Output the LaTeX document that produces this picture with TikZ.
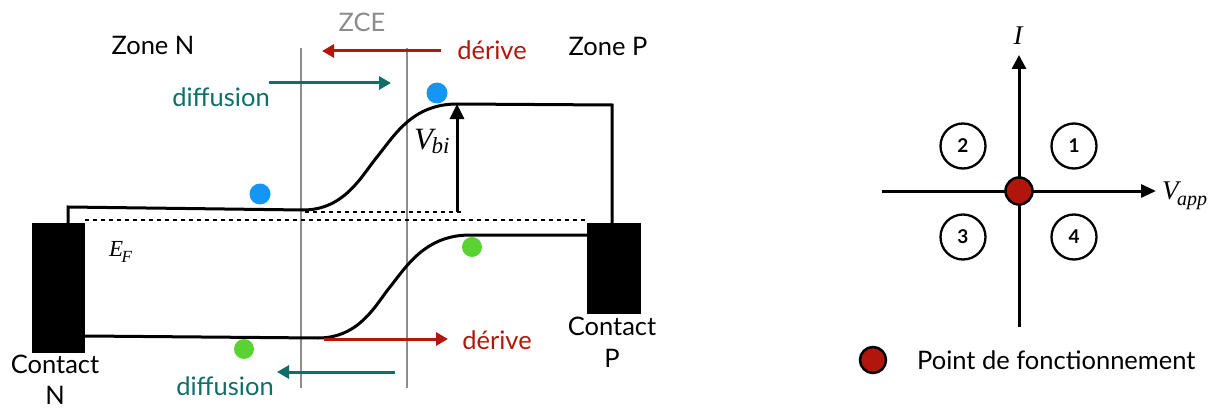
\documentclass[tikz,border=0pt]{standalone}
\usepackage{graphicx}
\usepackage{fontspec}
\setmainfont{Lato}
\newfontfamily\tmsfont{Liberation Serif}
\usetikzlibrary{arrows.meta}
\definecolor{derred}{RGB}{176,24,12}
\definecolor{diffteal}{RGB}{14,110,104}
\definecolor{eblue}{RGB}{20,150,245}
\definecolor{hgreen}{RGB}{90,210,50}
\definecolor{zgray}{RGB}{140,140,140}
\definecolor{pointred}{RGB}{178,22,10}
\newcommand\symsub[5]{{\tmsfont\itshape\fontsize{#1}{#1}\selectfont #2\kern-1.5pt\raisebox{-#5pt}{\fontsize{#3}{#3}\selectfont #4}}}
\begin{document}
\begin{tikzpicture}[x=1pt,y=-1pt,
  band/.style={line width=3pt,line join=miter},
  contact/.style={draw=none,fill=black,inner sep=0pt,minimum width=53pt},
  lbl/.style={inner sep=0pt,font=\fontsize{25.5}{32}\selectfont},
  mlbl/.style={inner sep=0pt},
  zline/.style={zgray,line width=2.2pt},
  dashline/.style={line width=1.8pt,dash pattern=on 4pt off 4pt},
  redarr/.style={derred,line width=3pt,-{Triangle[length=12pt,width=13pt]}},
  tealarr/.style={diffteal,line width=3pt,-{Triangle[length=12pt,width=13pt]}},
  electron/.style={circle,fill=eblue,inner sep=0pt,minimum size=21pt},
  hole/.style={circle,fill=hgreen,inner sep=0pt,minimum size=20pt},
  axisarr/.style={line width=3pt,-{Triangle[length=14pt,width=14pt]}},
  quad/.style={circle,draw,line width=2.3pt,minimum size=45pt,inner sep=0pt,font=\fontsize{19}{20}\selectfont\bfseries},
  opoint/.style={circle,draw,line width=2.5pt,fill=pointred,minimum size=27pt,inner sep=0pt}]
\useasboundingbox (0,0) rectangle (1219,412);

% ZCE boundaries
\coordinate (z1t) at (301,48); \coordinate (z1b) at (301,388);
\coordinate (z2t) at (407,48); \coordinate (z2b) at (407,388);
\draw[zline] (z1t) -- (z1b);
\draw[zline] (z2t) -- (z2b);

% contacts
\node[contact,minimum width=53pt,minimum height=130pt] (cN) at (58.5,288) {};
\node[contact,minimum width=54pt,minimum height=91pt] (cP) at (614,268.5) {};
\node[lbl,align=center,font=\fontsize{25.5}{31}\selectfont,anchor=north] (cNl) at (55,355) {Contact\\N};
\node[lbl,align=center,font=\fontsize{25.5}{32}\selectfont,anchor=north] (cPl) at (612,317) {Contact\\P};

% Fermi level
\draw[dashline] ([yshift=3pt]cN.north east) -- ([yshift=3pt]cP.north west);
\node[mlbl,anchor=base west] (EF) at (109,256) {\symsub{23}{E}{17}{F}{6}};

% conduction band
\coordinate (cb1) at (303,210);
\coordinate (cb2) at (457,104);
\draw[band] (68,223) -- (68,207) -- (cb1) .. controls (345,210) and (362,175) .. (377,157) .. controls (394,136) and (412,104) .. (cb2) -- (612,105) -- (612,223);
% valence band
\coordinate (vb1) at (318,338);
\coordinate (vb2) at (470,235);
\draw[band] (cN.east |- vb1) ++(0,-2) -- (vb1) .. controls (360,338) and (376,304) .. (390,287) .. controls (406,267) and (425,235) .. (vb2) -- (cP.west |- vb2);

% Vbi
\coordinate (vbb) at (457,212);
\draw[dashline] (cb1 |- vbb) ++(2,0) -- ([xshift=7pt]vbb);
\draw[line width=3pt,-{Triangle[length=15pt,width=14pt]}] (vbb) -- (cb2);
\node[mlbl,anchor=base west] (Vbi) at (414,149) {\symsub{31}{V}{23}{bi}{5}};

% carriers
\node[electron] (e1) at (260,194) {};
\node[electron] (e2) at (437,93) {};
\node[hole] (h1) at (472,247) {};
\node[hole] (h2) at (244,349) {};

% labels
\node[lbl] (zN) at (153,45) {Zone N};
\node[lbl] (zP) at (608,46) {Zone P};
\node[lbl,text=zgray] (zce) at (362,22) {ZCE};
\node[lbl,text=derred] (d1) at (492,50) {dérive};
\node[lbl,text=derred] (d2) at (497,340) {dérive};
\node[lbl,text=diffteal] (f1) at (221,97) {diffusion};
\node[lbl,text=diffteal] (f2) at (225,386) {diffusion};

% arrows
\coordinate (ra1) at (441,51); \coordinate (ra2) at (322,51);
\draw[redarr] (ra1) -- (ra2);
\coordinate (ta1) at (269,83); \coordinate (ta2) at (391,83);
\draw[tealarr] (ta1) -- (ta2);
\coordinate (rb1) at (324,339); \coordinate (rb2) at (448,339);
\draw[redarr] (rb1) -- (rb2);
\coordinate (tb1) at (395,372); \coordinate (tb2) at (277,372);
\draw[tealarr] (tb1) -- (tb2);

% ---------- right: I-V quadrants ----------
\coordinate (O) at (1019,191);
\coordinate (ybot) at (1019,327); \coordinate (ytop) at (1019,55);
\coordinate (xl) at (882,191); \coordinate (xr) at (1156,191);
\draw[axisarr] (ybot) -- (ytop);
\draw[line width=3pt,-{Triangle[length=15pt,width=13pt]}] (xl) -- (xr);
\node[mlbl,anchor=base] (Il) at (1018,45) {{\tmsfont\itshape\fontsize{27}{27}\selectfont I}};
\node[mlbl,anchor=base west] (Vl) at (1162,199) {\symsub{27}{V}{20}{app}{6}};
\node[opoint] (op) at (O) {};
\node[quad] (q1) at (1074,146) {1};
\node[quad] (q2) at (963,146) {2};
\node[quad] (q3) at (963,237) {3};
\node[quad] (q4) at (1074,237) {4};
\node[opoint,minimum size=26pt] (lp) at (873,360) {};
\node[lbl,anchor=west,font=\fontsize{25.5}{28}\selectfont] (lt) at (917,360) {Point de fonctionnement};
\end{tikzpicture}
\end{document}
